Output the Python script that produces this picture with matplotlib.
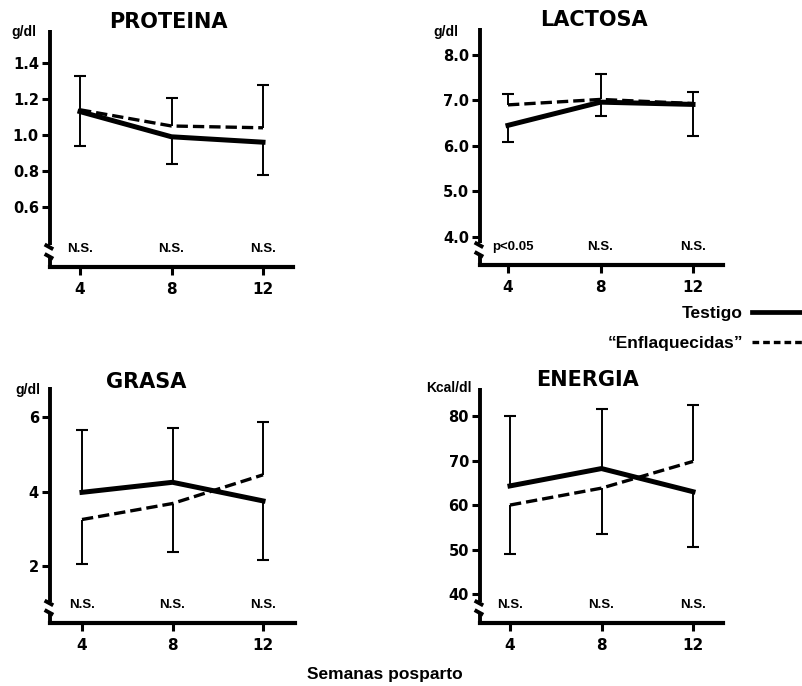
import numpy as np
import matplotlib
matplotlib.use("Agg")
import matplotlib.pyplot as plt
from matplotlib.lines import Line2D
from matplotlib.transforms import blended_transform_factory

# semanas posparto
semanas = [4, 8, 12]
semanas_lab = ["4", "8", "12"]

# PROTEINA (g/dl)
prot_testigo = [1.13, 0.99, 0.96]
prot_enfl = [1.14, 1.05, 1.04]
prot_testigo_inf = [0.19, 0.15, 0.18]
prot_testigo_sup = [0, 0, 0]
prot_enfl_inf = [0, 0, 0]
prot_enfl_sup = [0.19, 0.155, 0.24]
prot_ticks = [0.6, 0.8, 1.0, 1.2, 1.4]
prot_sig = ["N.S.", "N.S.", "N.S."]

# LACTOSA (g/dl)
lact_testigo = [6.45, 6.96, 6.91]
lact_enfl = [6.90, 7.02, 6.93]
lact_testigo_inf = [0.37, 0.31, 0.70]
lact_testigo_sup = [0, 0, 0]
lact_enfl_inf = [0, 0, 0]
lact_enfl_sup = [0.23, 0.55, 0.25]
lact_ticks = [4.0, 5.0, 6.0, 7.0, 8.0]
lact_sig = ["p<0.05", "N.S.", "N.S."]

# GRASA (g/dl)
gras_testigo = [3.98, 4.25, 3.75]
gras_enfl = [3.25, 3.68, 4.45]
gras_testigo_inf = [0, 0, 1.59]
gras_testigo_sup = [1.67, 1.47, 0]
gras_enfl_inf = [1.20, 1.31, 0]
gras_enfl_sup = [0, 0, 1.42]
gras_ticks = [2, 4, 6]
gras_sig = ["N.S.", "N.S.", "N.S."]

# ENERGIA (Kcal/dl)
ener_testigo = [64.3, 68.2, 63.0]
ener_enfl = [60.0, 63.8, 69.8]
ener_testigo_inf = [0, 0, 12.5]
ener_testigo_sup = [15.7, 13.3, 0]
ener_enfl_inf = [11.0, 10.2, 0]
ener_enfl_sup = [0, 0, 12.6]
ener_ticks = [40, 50, 60, 70, 80]
ener_sig = ["N.S.", "N.S.", "N.S."]

W, H = 802, 686
fig = plt.figure(figsize=(W / 100, H / 100), dpi=100)
fig.patch.set_facecolor("white")

BOLD = dict(family="Liberation Sans", weight="bold")
TITLE = dict(family="DejaVu Sans", weight="bold")


def barras(ax, x, y, inf, sup):
    # barras de error de un solo lado (como en el original)
    for xi, yi, a, b in zip(x, y, inf, sup):
        for extremo in ([yi - a] if a > 0 else []) + ([yi + b] if b > 0 else []):
            ax.plot([xi, xi], [yi, extremo], color="black", lw=1.4, solid_capstyle="butt")
            ax.plot([xi], [extremo], marker="_", ms=9, mew=1.5, color="black")


def panel(px, ylim, ticks, fmt, titulo, unidad, testigo, enfl, t_inf, t_sup, e_inf, e_sup, sig,
          titulo_xy, unidad_xy):
    x0, x1, y0, y1, t4, t12 = px
    ax = fig.add_axes([x0 / W, 1 - y1 / H, (x1 - x0) / W, (y1 - y0) / H])
    s = 8 / (t12 - t4)
    ax.set_xlim(4 - (t4 - x0) * s, 12 + (x1 - t12) * s)
    ax.set_ylim(*ylim)

    ax.plot(semanas, enfl, color="black", lw=2.4, dashes=(3.4, 1.5))
    ax.plot(semanas, testigo, color="black", lw=3.6, solid_joinstyle="round")
    barras(ax, semanas, testigo, t_inf, t_sup)
    barras(ax, semanas, enfl, e_inf, e_sup)

    for lado in ["top", "right", "left"]:
        ax.spines[lado].set_visible(False)
    ax.spines["bottom"].set_linewidth(3)

    # eje y con corte
    bh, bl = 0.085, 0.045
    dx, dy = 0.022, 0.02
    kw = dict(transform=ax.transAxes, clip_on=False, color="black", lw=2.8, solid_capstyle="butt")
    ax.plot([0, 0], [1, bh + dy * 0.3], **kw)
    ax.plot([0, 0], [bl - dy * 0.3, -0.006], **kw)
    ax.plot([-dx, dx * 0.6], [bh + dy * 0.5, bh - dy * 0.5], **kw)
    ax.plot([-dx, dx * 0.6], [bl + dy * 0.5, bl - dy * 0.5], **kw)

    ax.set_yticks(ticks)
    ax.set_yticklabels([fmt.format(v) for v in ticks], fontdict=dict(size=10.5, **TITLE))
    ax.set_xticks(semanas)
    ax.set_xticklabels(semanas_lab, fontdict=dict(size=11, **TITLE))
    ax.tick_params(axis="y", direction="out", length=6, width=2.2, pad=2)
    ax.tick_params(axis="x", direction="out", length=6, width=2.2, pad=5)

    tr = blended_transform_factory(ax.transData, ax.transAxes)
    for xi, txt in zip(semanas, sig):
        ax.text(xi + 0.2 if txt == "p<0.05" else xi, 0.075, txt, transform=tr,
                ha="center", va="center", size=9.5, **BOLD)

    fig.text(titulo_xy[0] / W, 1 - titulo_xy[1] / H, titulo, ha="center", va="center",
             size=15, **TITLE)
    fig.text(unidad_xy[0] / W, 1 - unidad_xy[1] / H, unidad, ha="center", va="center",
             size=10, **BOLD)
    return ax


panel((50, 293, 30, 267, 80, 263), (0.267, 1.583), prot_ticks, "{:.1f}", "PROTEINA", "g/dl",
      prot_testigo, prot_enfl, prot_testigo_inf, prot_testigo_sup, prot_enfl_inf, prot_enfl_sup,
      prot_sig, (168, 22), (24, 32))
panel((480, 723, 28, 265, 508, 693), (3.38, 8.59), lact_ticks, "{:.1f}", "LACTOSA", "g/dl",
      lact_testigo, lact_enfl, lact_testigo_inf, lact_testigo_sup, lact_enfl_inf, lact_enfl_sup,
      lact_sig, (594, 20), (446, 32))
panel((50, 295, 387, 623, 82, 263), (0.47, 6.81), gras_ticks, "{:d}", "GRASA", "g/dl",
      gras_testigo, gras_enfl, gras_testigo_inf, gras_testigo_sup, gras_enfl_inf, gras_enfl_sup,
      gras_sig, (146, 382), (28, 390))
panel((480, 723, 388, 623, 510, 693), (33.5, 86.3), ener_ticks, "{:d}", "ENERGIA", "Kcal/dl",
      ener_testigo, ener_enfl, ener_testigo_inf, ener_testigo_sup, ener_enfl_inf, ener_enfl_sup,
      ener_sig, (588, 380), (449, 388))

handles = [Line2D([], [], color="black", lw=3.4),
           Line2D([], [], color="black", lw=2.4, dashes=(2.0, 1.2))]
fig.legend(handles, ["Testigo", "\u201cEnflaquecidas\u201d"], loc="upper right",
           bbox_to_anchor=(1.0, 1 - 306 / H), markerfirst=False, frameon=False,
           borderpad=0, borderaxespad=0, handlelength=2.9, handletextpad=0.5,
           labelspacing=0.85, prop=dict(size=12.5, **BOLD))

fig.text(385 / W, 1 - 675 / H, "Semanas posparto", ha="center", va="center", size=12.5, **BOLD)

fig.savefig("out.png", dpi=100)
